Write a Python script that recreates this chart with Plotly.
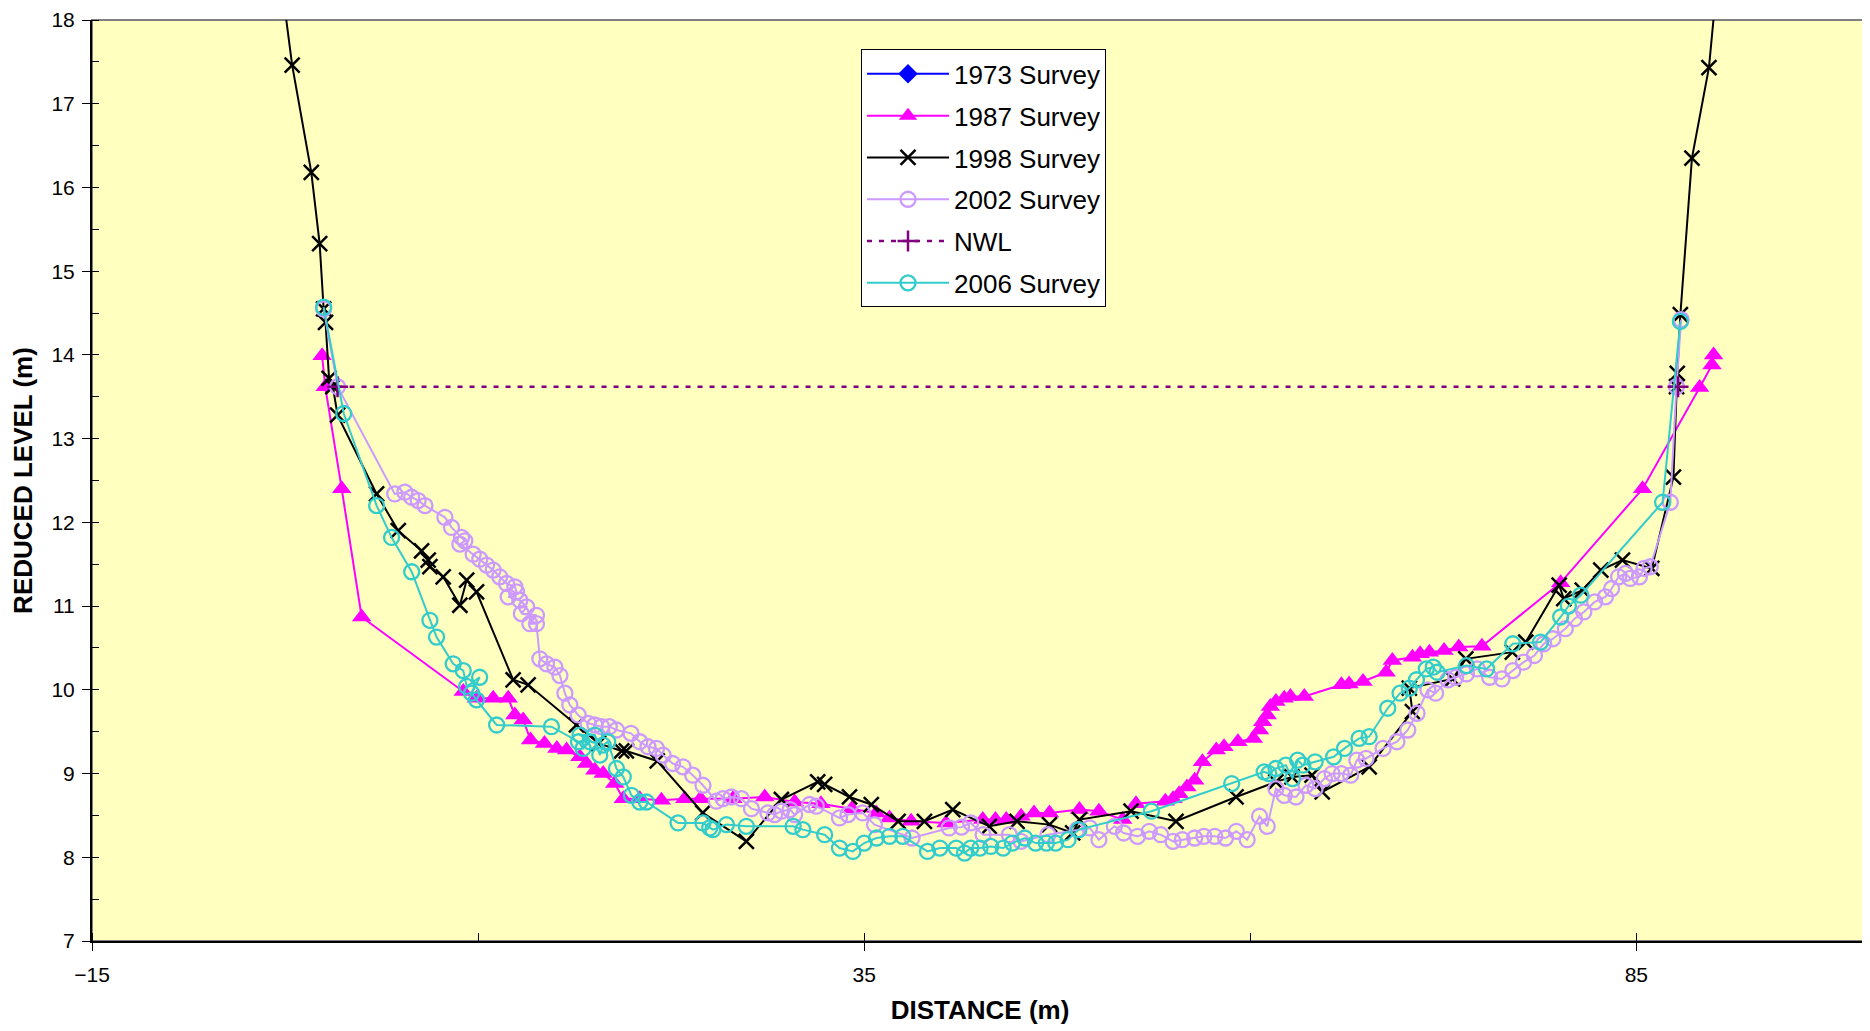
import plotly.graph_objects as go

# cross-section survey data (distance m, reduced level m)
# 1973 survey has no points inside the plotted window, it only shows in the legend
x1973 = [None]
y1973 = [None]

x1987 = [-0.1, 0.1, 1.17, 2.46, 9.04, 9.9, 10.98, 11.95, 12.38, 12.92, 13.4, 14.3,
         15.1, 15.73, 16.59, 17.02, 17.56, 18.1, 18.85, 19.4, 20.47, 21.87, 23.38, 24.4,
         26.5, 28.56, 30.5, 32.2, 34.2, 35.78, 36.64, 38.04, 40.3, 42.68, 43.5, 44.2,
         45.16, 46.0, 47.0, 48.94, 50.2, 51.74, 52.6, 54.5, 55.0, 55.4, 55.9, 56.4,
         56.9, 57.8, 58.3, 59.2, 60.2, 60.6, 60.8, 61.1, 61.3, 61.66, 62.2, 62.6,
         63.5, 65.9, 66.4, 67.3, 68.8, 69.2, 70.5, 71.0, 71.6, 72.55, 73.5, 75.0,
         80.1, 85.4, 89.1, 89.9, 90.0]
y1987 = [13.99, 13.62, 12.40, 10.87, 9.98, 9.90, 9.90, 9.90, 9.70, 9.64, 9.40, 9.36,
         9.30, 9.28, 9.20, 9.12, 9.04, 9.0, 8.88, 8.70, 8.70, 8.68, 8.70, 8.70,
         8.70, 8.72, 8.66, 8.64, 8.58, 8.53, 8.47, 8.43, 8.41, 8.45, 8.45, 8.45,
         8.49, 8.53, 8.53, 8.57, 8.55, 8.45, 8.64, 8.67, 8.70, 8.76, 8.84, 8.92,
         9.14, 9.28, 9.32, 9.38, 9.42, 9.52, 9.62, 9.70, 9.80, 9.86, 9.90, 9.92,
         9.92, 10.06, 10.07, 10.10, 10.21, 10.35, 10.39, 10.43, 10.45, 10.47, 10.51, 10.52,
         11.28, 12.40, 13.61, 13.88, 14.0]

x1998 = [-2.84, -2.04, -0.8, -0.26, 0.0, 0.12, 0.35, 0.6, 0.9, 3.43, 4.83, 6.34,
         6.77, 6.88, 7.74, 8.82, 9.26, 9.9, 12.27, 13.24, 16.37, 17.8, 19.3, 19.6,
         21.6, 24.55, 27.37, 29.64, 31.99, 32.44, 34.05, 35.46, 37.2, 38.9, 40.74, 43.1,
         44.9, 47.0, 48.5, 48.94, 52.28, 55.19, 59.08, 61.66, 62.7, 64.0, 64.66, 67.7,
         70.5, 70.3, 73.1, 73.96, 76.97, 77.84, 80.0, 80.3, 81.5, 82.7, 84.1, 86.0,
         87.4, 87.6, 87.65, 87.85, 88.6, 89.7, 90.3]
y1998 = [18.6, 17.46, 16.18, 15.33, 14.55, 14.39, 13.72, 13.62, 13.28, 12.34, 11.90, 11.66,
         11.55, 11.47, 11.35, 11.01, 11.31, 11.17, 10.12, 10.06, 9.58, 9.36, 9.27, 9.27,
         9.15, 8.53, 8.19, 8.69, 8.90, 8.87, 8.72, 8.63, 8.43, 8.43, 8.57, 8.37,
         8.43, 8.39, 8.29, 8.45, 8.55, 8.43, 8.72, 8.90, 8.96, 8.98, 8.78, 9.08,
         9.74, 10.02, 10.13, 10.37, 10.45, 10.57, 11.25, 11.09, 11.19, 11.43, 11.55, 11.45,
         12.54, 13.62, 13.78, 14.48, 16.35, 17.43, 18.6]

x2002 = [0.0, 0.9, 4.6, 5.26, 5.7, 6.12, 6.56, 7.85, 8.28, 8.93,
         9.14, 8.82, 9.68, 10.11, 10.55, 10.98, 11.4, 11.84, 12.38, 12.49,
         11.95, 12.7, 13.14, 12.8, 13.78, 13.35, 13.78, 14.0, 14.43, 14.97,
         15.3, 15.62, 15.94, 16.48, 17.12, 17.56, 18.0, 18.5, 18.96, 19.9,
         20.47, 21.0, 21.55, 21.98, 22.6, 23.27, 23.9, 24.56, 25.43, 25.86,
         26.4, 27.05, 27.7, 28.77, 29.2, 29.64, 30.2, 30.5, 31.46, 31.9,
         33.4, 33.95, 34.9, 35.67, 38.1, 40.5, 41.3, 41.9, 42.7, 44.4,
         45.16, 46.9, 48.8, 49.6, 50.2, 51.2, 51.8, 52.7, 53.46, 54.2,
         55.0, 55.6, 56.4, 57.0, 57.7, 58.4, 59.1, 59.8, 60.6, 61.1,
         61.66, 62.2, 62.96, 63.6, 64.2, 64.8, 65.3, 65.9, 66.5, 66.9,
         67.5, 68.6, 69.5, 70.2, 70.8, 71.5, 72.0, 72.8, 73.3, 74.0,
         74.7, 75.5, 76.3, 77.0, 77.7, 78.4, 79.0, 79.6, 80.4, 81.0,
         81.6, 82.3, 83.0, 83.4, 83.85, 84.3, 84.6, 85.2, 85.5, 85.9,
         87.2, 87.6, 87.9]
y2002 = [14.55, 13.62, 12.34, 12.36, 12.30, 12.26, 12.20, 12.06, 11.94, 11.82,
         11.78, 11.74, 11.62, 11.56, 11.49, 11.43, 11.35, 11.27, 11.23, 11.17,
         11.11, 11.07, 10.99, 10.91, 10.89, 10.79, 10.79, 10.37, 10.31, 10.27,
         10.17, 9.96, 9.82, 9.70, 9.60, 9.58, 9.56, 9.56, 9.52, 9.48,
         9.38, 9.32, 9.30, 9.22, 9.12, 9.08, 8.98, 8.86, 8.67, 8.70,
         8.72, 8.70, 8.58, 8.53, 8.51, 8.55, 8.57, 8.51, 8.63, 8.61,
         8.47, 8.51, 8.53, 8.39, 8.23, 8.35, 8.36, 8.41, 8.27, 8.27,
         8.19, 8.27, 8.33, 8.35, 8.21, 8.37, 8.29, 8.25, 8.31, 8.27,
         8.19, 8.21, 8.23, 8.25, 8.25, 8.23, 8.31, 8.21, 8.49, 8.37,
         8.82, 8.74, 8.72, 8.86, 8.82, 8.94, 9.0, 9.0, 8.98, 9.16,
         9.18, 9.30, 9.38, 9.52, 9.72, 10.0, 9.96, 10.12, 10.15, 10.19,
         10.25, 10.15, 10.13, 10.23, 10.33, 10.41, 10.55, 10.61, 10.73, 10.85,
         10.93, 11.05, 11.11, 11.21, 11.35, 11.39, 11.33, 11.35, 11.45, 11.47,
         12.24, 13.62, 14.42]

x_nwl = [0.9, 87.7]
y_nwl = [13.62, 13.62]

x2006 = [0.0, 1.3, 3.43, 4.4, 5.7, 6.88, 7.31, 8.39, 9.04, 9.26,
         10.1, 9.58, 9.9, 11.2, 14.75, 16.5, 16.8, 17.23, 16.6, 17.56,
         17.88, 18.1, 18.4, 18.96, 19.4, 19.93, 20.47, 20.9, 22.95, 24.56,
         25.0, 25.2, 26.08, 27.37, 30.4, 31.03, 32.44, 33.4, 34.27, 35.0,
         35.8, 36.64, 37.5, 39.1, 39.9, 40.96, 41.5, 41.9, 42.5, 43.2,
         44.0, 44.6, 45.4, 46.1, 46.8, 47.4, 48.2, 48.9, 53.6, 58.8,
         60.9, 61.2, 61.66, 62.3, 62.74, 63.07, 63.4, 64.2, 65.4, 66.1,
         67.05, 67.7, 68.9, 69.7, 70.3, 70.76, 71.4, 71.85, 72.1, 74.0,
         75.3, 77.0, 78.8, 80.1, 80.6, 81.4, 86.7, 87.85]
y2006 = [14.57, 13.30, 12.20, 11.82, 11.41, 10.83, 10.63, 10.31, 10.23, 10.04,
         10.15, 9.96, 9.88, 9.58, 9.56, 9.38, 9.30, 9.38, 9.46, 9.46,
         9.22, 9.34, 9.38, 9.06, 8.96, 8.74, 8.66, 8.66, 8.41, 8.41,
         8.35, 8.33, 8.39, 8.37, 8.37, 8.33, 8.27, 8.11, 8.07, 8.17,
         8.23, 8.25, 8.25, 8.07, 8.11, 8.11, 8.05, 8.11, 8.11, 8.13,
         8.11, 8.17, 8.23, 8.17, 8.17, 8.17, 8.21, 8.33, 8.55, 8.88,
         9.02, 9.0, 9.06, 9.10, 8.94, 9.16, 9.1, 9.14, 9.2, 9.30,
         9.42, 9.44, 9.78, 9.96, 10.02, 10.12, 10.25, 10.27, 10.21, 10.29,
         10.25, 10.55, 10.57, 10.87, 11.0, 11.13, 12.24, 14.40]

font = "Liberation Sans, Arial, sans-serif"

fig = go.Figure()

# one legend group per trace so tracegroupgap can space the legend rows
fig.add_trace(go.Scatter(
    x=x1973, y=y1973, name="1973 Survey", mode="lines+markers", legendgroup="a",
    line=dict(color="#0000FF", width=2),
    marker=dict(symbol="diamond", size=15, color="#0000FF")))

fig.add_trace(go.Scatter(
    x=x1987, y=y1987, name="1987 Survey", mode="lines+markers", legendgroup="b",
    line=dict(color="#FF00FF", width=2),
    marker=dict(symbol="triangle-up", size=17, color="#FF00FF")))

fig.add_trace(go.Scatter(
    x=x1998, y=y1998, name="1998 Survey", mode="lines+markers", legendgroup="c",
    line=dict(color="#000000", width=2),
    marker=dict(symbol="x-thin-open", size=15, line=dict(color="#000000", width=2.5))))

fig.add_trace(go.Scatter(
    x=x2002, y=y2002, name="2002 Survey", mode="lines+markers", legendgroup="d",
    line=dict(color="#CC99FF", width=2),
    marker=dict(symbol="circle-open", size=15, line=dict(color="#CC99FF", width=2.3))))

fig.add_trace(go.Scatter(
    x=x_nwl, y=y_nwl, name="NWL", mode="lines+markers", legendgroup="e",
    line=dict(color="#800080", width=2.5, dash="5px,7px"),
    marker=dict(symbol="cross-thin-open", size=15, line=dict(color="#800080", width=2.5))))

fig.add_trace(go.Scatter(
    x=x2006, y=y2006, name="2006 Survey", mode="lines+markers", legendgroup="f",
    line=dict(color="#33CCCC", width=2),
    marker=dict(symbol="circle-open", size=15, line=dict(color="#33CCCC", width=2.3))))

# grey frame round the plot area (top and right edges)
fig.add_shape(type="rect", xref="paper", yref="paper", x0=0, y0=0, x1=1, y1=1,
              line=dict(color="#808080", width=2), layer="below")

# the page body adds an 8px margin, so the figure is a bit smaller than the window
fig.update_layout(
    width=1862, height=1023,
    margin=dict(l=84, r=2, t=12, b=90),
    paper_bgcolor="white",
    plot_bgcolor="#FFFFC0",
    font=dict(family=font, size=21, color="black"),
    showlegend=True,
    legend=dict(
        x=0.433, y=0.968, xanchor="left", yanchor="top",
        bgcolor="white", bordercolor="black", borderwidth=1,
        font=dict(family=font, size=26),
        traceorder="grouped", tracegroupgap=5, itemwidth=82,
    ),
    xaxis=dict(
        range=[-15, 100], tick0=-15, dtick=50,
        showgrid=False, zeroline=False, automargin=False,
        showline=True, linecolor="#000000", linewidth=2,
        ticks="outside", ticklen=8, tickcolor="black",
        ticklabelstandoff=6, ticklabeloverflow="allow",
        minor=dict(dtick=25, tick0=-15, ticks="inside", ticklen=8, tickcolor="black"),
        tickfont=dict(family=font, size=21),
        title=dict(text="<b>DISTANCE (m)</b>", font=dict(family=font, size=26), standoff=16),
    ),
    yaxis=dict(
        range=[7, 18], dtick=1,
        showgrid=False, zeroline=False, automargin=False,
        showline=True, linecolor="#000000", linewidth=2,
        ticks="outside", ticklen=8, tickcolor="black",
        ticklabelstandoff=3, ticklabeloverflow="allow",
        minor=dict(dtick=0.5, ticks="inside", ticklen=7, tickcolor="black"),
        tickfont=dict(family=font, size=21),
        title=dict(text="<b>REDUCED LEVEL (m)</b>", font=dict(family=font, size=26), standoff=12),
    ),
)

fig.write_html("out.html")
